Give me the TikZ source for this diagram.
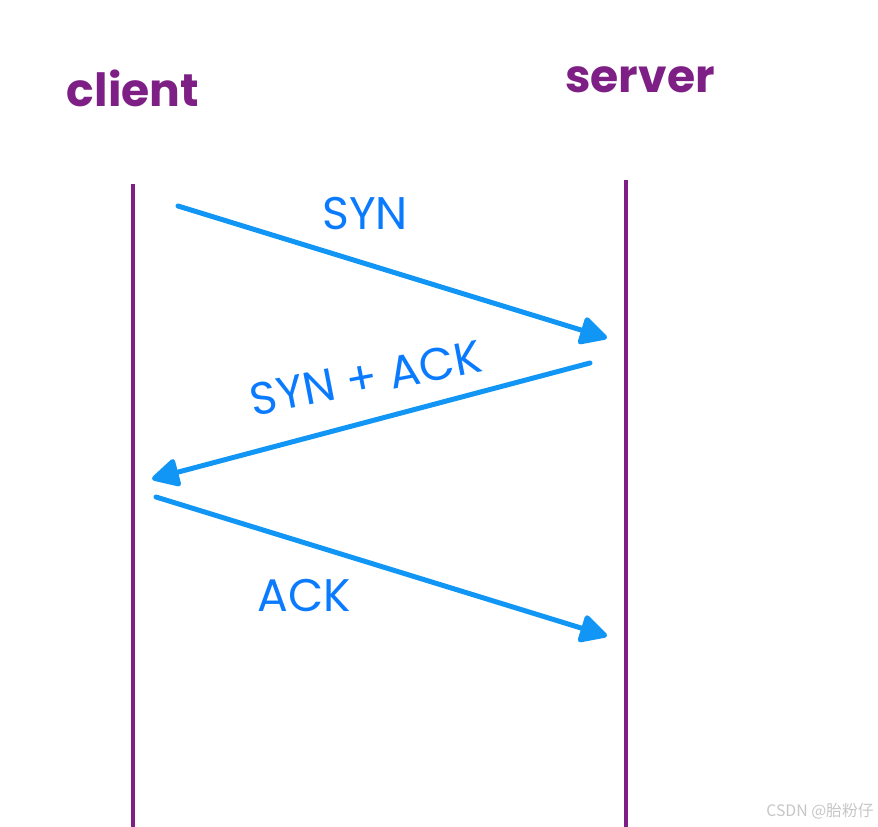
\documentclass[tikz,border=0pt]{standalone}
\usepackage{fontspec}
\setmainfont{Poppins}
\newfontfamily\cjkfont{Noto Sans CJK SC}
\usepackage{xcolor}
\usepackage{tikz}
\usetikzlibrary{arrows.meta,positioning}
\definecolor{lifepurple}{HTML}{7E1F86}
\definecolor{msgblue}{HTML}{1296F5}
\definecolor{lblblue}{HTML}{0A7BFF}

\begin{document}
\begin{tikzpicture}[
  x=0.02cm, y=-0.02cm,
  who/.style={text=lifepurple,font=\fontsize{26}{28}\selectfont\bfseries,inner sep=0pt},
  lbl/.style={text=lblblue,font=\fontsize{26}{28}\selectfont,inner sep=0pt},
  life/.style={lifepurple,line width=0.08cm},
  msg/.style={-{Triangle[length=0.6cm,width=0.6cm,round]},msgblue,line width=0.1cm,line cap=round},
]
\useasboundingbox (0,0) rectangle (878,827);
% lifelines
\node[who] (client) at (133,88) {client};
\node[who] (server) at (640,80) {server};
\coordinate (c-top) at (133,184);
\coordinate (c-bot) at (133,827);
\coordinate (s-top) at (626,180);
\coordinate (s-bot) at (626,827);
\draw[life] (c-top) -- (c-bot);
\draw[life] (s-top) -- (s-bot);
% messages
\coordinate (syn-a) at (178,206);
\coordinate (syn-b) at (607,338);
\coordinate (sa-a) at (590,363);
\coordinate (sa-b) at (152,479);
\coordinate (ack-a) at (156,497);
\coordinate (ack-b) at (607,636);
\draw[msg] (syn-a) -- (syn-b);
\draw[msg] (sa-a) -- (sa-b);
\draw[msg] (ack-a) -- (ack-b);
\node[lbl] (synl) at (365,214) {SYN};
\node[lbl,rotate=11] (sal) at (366,378) {SYN + ACK};
\node[lbl] (ackl) at (304,596) {ACK};
% watermark
\node[text=gray!45,font=\cjkfont\fontsize{9}{10}\selectfont,anchor=east,inner sep=0pt] (mark) at (874,811) {CSDN @胎粉仔};
\end{tikzpicture}
\end{document}
